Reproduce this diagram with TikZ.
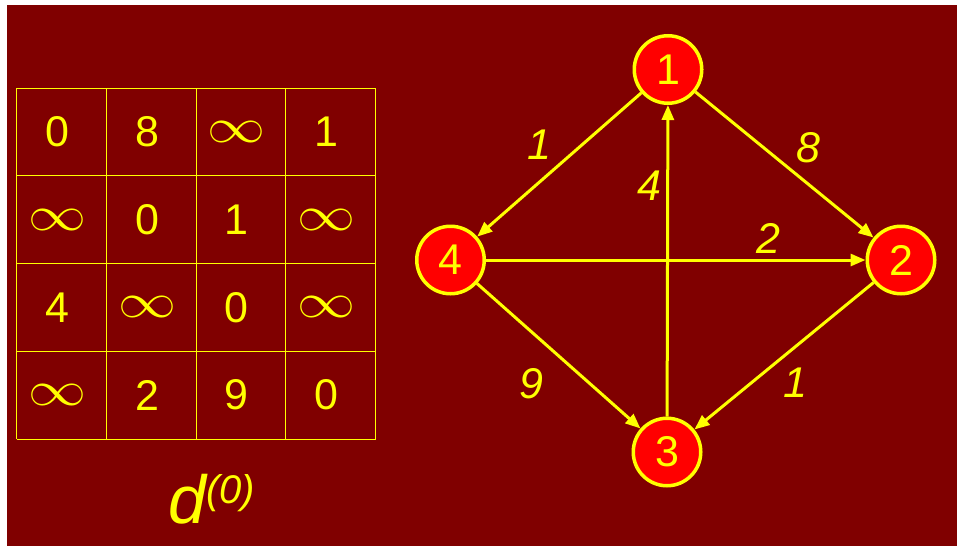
\documentclass[tikz,border=0pt]{standalone}
\usepackage{fontspec}
\setmainfont{Liberation Sans}
\usetikzlibrary{arrows.meta}
\definecolor{slidebg}{HTML}{800000}
\definecolor{vtxred}{HTML}{FF0000}
\definecolor{ylw}{HTML}{FFFF00}
\newcommand{\infsym}{\resizebox{58pt}{21pt}{$\infty$}}

\begin{document}
\begin{tikzpicture}[x=1pt,y=-1pt,
    vtx/.style={circle,draw=ylw,fill=vtxred,line width=3.5pt,minimum size=67.5pt,inner sep=0pt,text=ylw,font=\fontsize{43}{50}\selectfont},
    arc/.style={draw=ylw,line width=3pt,-{Triangle[length=15pt,width=12pt]}},
    wgt/.style={text=ylw,inner sep=5pt,font=\fontsize{43}{50}\selectfont\itshape},
    cell/.style={text=ylw,inner sep=0pt,font=\fontsize{43}{50}\selectfont},
    tblline/.style={draw=ylw,line width=1pt}]
    \useasboundingbox (0,0) rectangle (957,546);
    \fill[white] (0,0) rectangle (957,546);
    \fill[slidebg] (7,5) rectangle (957,546);
    \foreach \i in {0,...,4} {
	\draw[tblline] (16.5+\i*89.75,88) -- ++(0,351);
	\draw[tblline] (16.5,88+\i*87.75) -- ++(359,0);
    }
    \foreach \row [count=\r from 0] in {{0,8,\infsym,1},{\infsym,0,1,\infsym},{4,\infsym,0,\infsym},{\infsym,2,9,0}}
	\foreach \val [count=\c from 0] in \row
	    \node[cell] (c\r\c) at (57.4+\c*89.75,131.9+\r*87.75) {\val};
    \node[anchor=base west,text=ylw,inner sep=0pt] (ttl) at (168,523)
	{\fontsize{68}{80}\selectfont\itshape d\raisebox{20pt}{\fontsize{40}{48}\selectfont (0)}};
    \node[vtx] (1) at (668,69.5) {1};
    \node[vtx] (2) at (901,260) {2};
    \node[vtx] (3) at (667,452) {3};
    \node[vtx] (4) at (450.5,260) {4};
    \draw[arc] (1) -- node[wgt,pos=.51,above left] (w14) {1} (4);
    \draw[arc] (1) -- node[wgt,pos=.53,above right] (w12) {8} (2);
    \draw[arc] (3) -- node[wgt,pos=.74,left] (w31) {4} (1);
    \draw[arc] (4) -- node[wgt,pos=.745,above] (w42) {2} (2);
    \draw[arc] (4) -- node[wgt,pos=.49,below left=7pt] (w43) {9} (3);
    \draw[arc] (2) -- node[wgt,pos=.54,below right] (w23) {1} (3);
\end{tikzpicture}
\end{document}
